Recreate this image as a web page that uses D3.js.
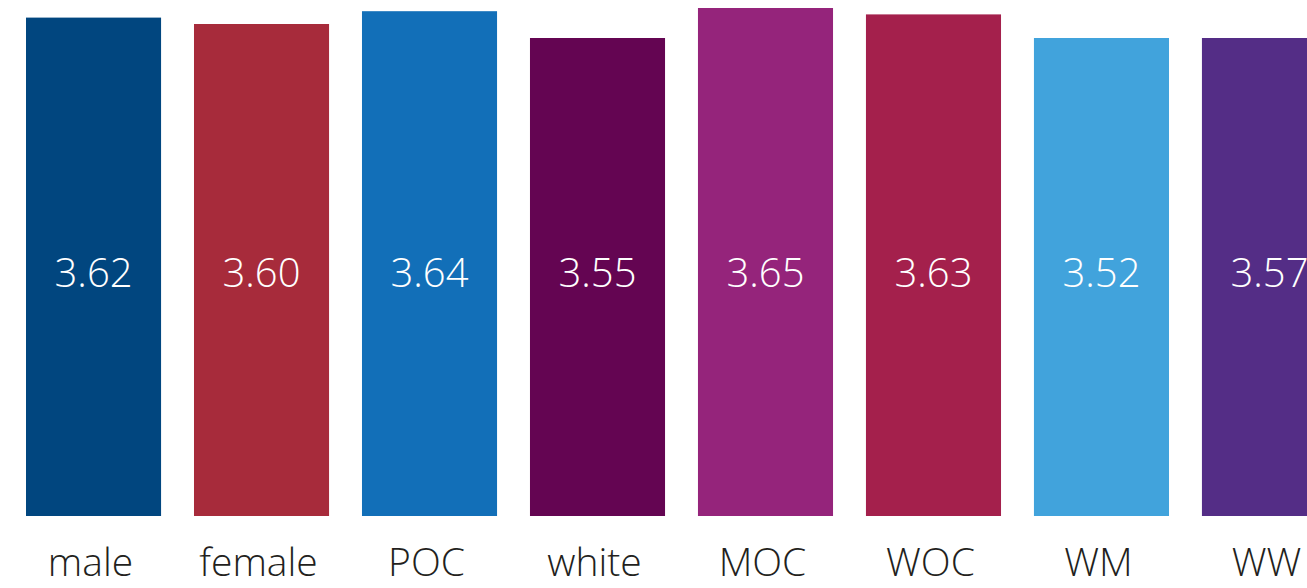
<html>
<head>
  <script src="https://d3js.org/d3.v7.min.js"></script>
  <style>
    body { margin: 0; overflow: hidden; background: #fff; }
  </style>
</head>
<body>
  <svg width="1307" height="588"></svg>

<script>
  // chart data
  var groups = ["male", "female", "POC", "white", "MOC", "WOC", "WM", "WW"];
  var scores = [3.62, 3.60, 3.64, 3.55, 3.65, 3.63, 3.52, 3.57];
  var colors = ["#01467f", "#a72b3b", "#126fb8", "#640552", "#95247b", "#a4204c", "#41a3dc", "#542d86"];

  var svg = d3.select("svg");
  var base = 516;

  var x = d3.scaleBand()
      .domain(groups)
      .range([26, 1337])
      .paddingInner(0.196)
      .paddingOuter(0);

  // truncated axis, everything under 3.57 sits at the floor
  var y = d3.scaleLinear()
      .domain([3.57, 3.60, 3.65])
      .range([38, 24, 8])
      .clamp(true);

  var bar = svg.selectAll("g.bar")
    .data(groups)
    .enter().append("g")
      .attr("class", "bar");

  bar.append("rect")
      .attr("x", function(d) { return x(d); })
      .attr("width", x.bandwidth())
      .attr("y", function(d, i) { return y(scores[i]); })
      .attr("height", function(d, i) { return base - y(scores[i]); })
      .attr("fill", function(d, i) { return colors[i]; });

  bar.append("text")
      .attr("x", function(d) { return x(d) + x.bandwidth() / 2; })
      .attr("y", 287)
      .attr("text-anchor", "middle")
      .style("font-family", "'Open Sans', sans-serif")
      .style("font-weight", 300)
      .style("font-size", "40px")
      .attr("fill", "#fff")
      .text(function(d, i) { return scores[i].toFixed(2); });

  bar.append("text")
      .attr("x", function(d) { return x(d) + x.bandwidth() / 2 - 3; })
      .attr("y", 576)
      .attr("text-anchor", "middle")
      .style("font-family", "'Open Sans', sans-serif")
      .style("font-weight", 300)
      .style("font-size", "39px")
      .attr("fill", "#231f20")
      .text(function(d) { return d; });
</script>
</body>
</html>
